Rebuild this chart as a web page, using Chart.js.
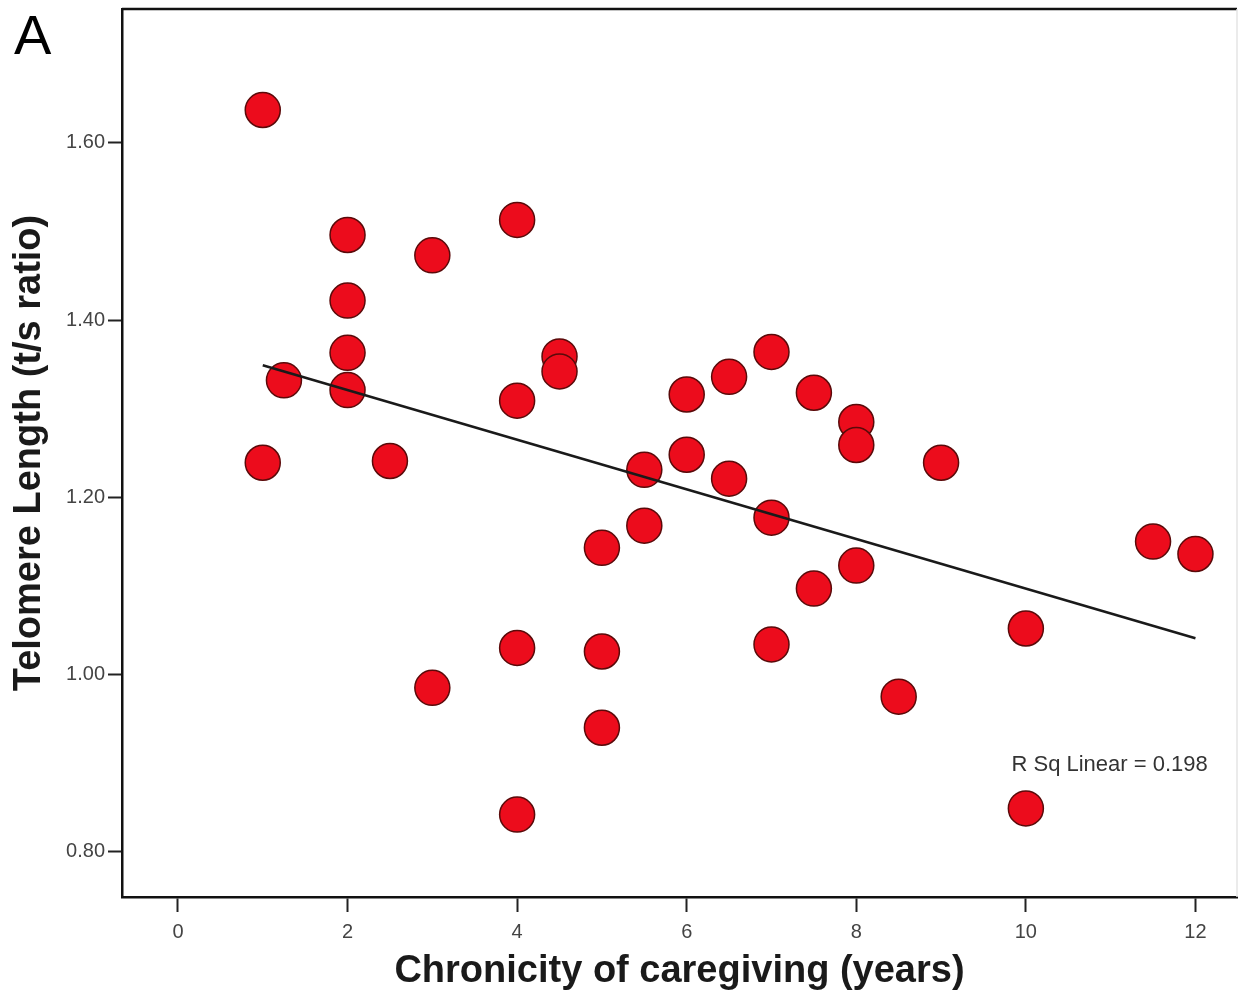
<!DOCTYPE html>
<html>
<head>
<meta charset="utf-8">
<script src="https://cdn.jsdelivr.net/npm/chart.js@4/dist/chart.umd.min.js"></script>
<style>
  html, body { margin: 0; padding: 0; background: #fff; overflow: hidden; }
  #wrap { width: 1240px; height: 996px; }
</style>
</head>
<body>
<div id="wrap"><canvas id="grafico"></canvas></div>
<script>
// dados
const caregivingYears = [1, 1, 1.25, 2, 2, 2, 2, 2.5, 3, 3, 4, 4, 4, 4, 4.5, 4.5, 5, 5, 5, 5.5, 5.5,
  6, 6, 6.5, 6.5, 7, 7, 7, 7.5, 7.5, 8, 8, 8, 8.5, 9, 10, 10, 11.5, 12]
const telomereLength = [1.637, 1.239, 1.332, 1.496, 1.422, 1.363, 1.321, 1.241, 1.473, 0.985,
  1.513, 1.309, 1.030, 0.842, 1.359, 1.342, 1.143, 1.026, 0.940, 1.231, 1.168,
  1.316, 1.248, 1.336, 1.221, 1.364, 1.177, 1.034, 1.318, 1.097, 1.285, 1.259, 1.123,
  0.975, 1.239, 1.052, 0.849, 1.150, 1.136]

// linha de regressão (extremos)
const fitX = [1, 12]
const fitY = [1.349, 1.041]

const xTicks = [0, 2, 4, 6, 8, 10, 12]
const yTicks = [0.80, 1.00, 1.20, 1.40, 1.60]
const rSqLabel = 'R Sq Linear = 0.198'

Chart.defaults.font.family = "'Liberation Sans', Arial, sans-serif"
Chart.defaults.color = '#444'

let ctx = document.getElementById('grafico')

// moldura + textos extras
const extras = {
  id: 'extras',
  afterDraw(chart) {
    const c = chart.ctx
    const a = chart.chartArea
    c.save()
    c.strokeStyle = '#111'
    c.lineWidth = 2.5
    c.beginPath()
    c.moveTo(a.left, a.top)
    c.lineTo(a.right, a.top)
    c.stroke()
    c.strokeStyle = '#e4e4e4'
    c.lineWidth = 1.5
    c.beginPath()
    c.moveTo(a.right, a.top)
    c.lineTo(a.right, a.bottom)
    c.stroke()

    c.fillStyle = '#000'
    c.font = "56px 'Liberation Sans', Arial, sans-serif"
    c.textBaseline = 'top'
    c.fillText('A', 14, 11)

    const sx = chart.scales.x, sy = chart.scales.y
    c.fillStyle = '#333'
    c.font = "22px 'Liberation Sans', Arial, sans-serif"
    c.textBaseline = 'middle'
    c.fillText(rSqLabel, sx.getPixelForValue(9.83), sy.getPixelForValue(0.898))
    c.restore()
  }
}

const data = {
  datasets: [
    {
      type: 'line',
      data: fitX.map((x, i) => ({ x, y: fitY[i] })),
      borderColor: '#1a1a1a',
      borderWidth: 2.5,
      pointRadius: 0,
      fill: false
    },
    {
      type: 'scatter',
      data: caregivingYears.map((x, i) => ({ x, y: telomereLength[i] })),
      backgroundColor: '#ec0c1c',
      borderColor: '#5a0a0a',
      borderWidth: 1.5,
      pointRadius: 17.5,
      pointHoverRadius: 17.5
    }
  ]
}

const config = {
  type: 'scatter',
  data,
  plugins: [extras],
  options: {
    responsive: true,
    maintainAspectRatio: false,
    animation: false,
    layout: { autoPadding: false, padding: { top: 9, right: 3, left: 0, bottom: 0 } },
    plugins: { legend: { display: false }, tooltip: { enabled: false } },
    scales: {
      x: {
        type: 'linear',
        min: -0.66,
        max: 12.49,
        afterBuildTicks: s => { s.ticks = xTicks.map(v => ({ value: v })) },
        afterFit: s => { s.height = 99; s.paddingLeft = 0; s.paddingRight = 0 },
        grid: { drawOnChartArea: false, drawTicks: true, tickLength: 15, tickWidth: 2, color: '#222' },
        border: { display: true, color: '#111', width: 2.5 },
        ticks: { font: { size: 20 }, color: '#444', padding: 8, maxRotation: 0 },
        title: {
          display: true,
          text: 'Chronicity of caregiving (years)',
          color: '#1a1a1a',
          font: { size: 38, weight: 'bold' },
          padding: { top: 0, bottom: 2 }
        }
      },
      y: {
        type: 'linear',
        min: 0.749,
        max: 1.751,
        afterBuildTicks: s => { s.ticks = yTicks.map(v => ({ value: v })) },
        afterFit: s => { s.width = 122; s.paddingTop = 0; s.paddingBottom = 0 },
        grid: { drawOnChartArea: false, drawTicks: true, tickLength: 14, tickWidth: 2, color: '#222' },
        border: { display: true, color: '#111', width: 2.5 },
        ticks: { font: { size: 20 }, color: '#444', padding: 3, callback: v => Number(v).toFixed(2) },
        title: {
          display: true,
          text: 'Telomere Length (t/s ratio)',
          color: '#1a1a1a',
          font: { size: 38, weight: 'bold' },
          padding: { top: 7, bottom: 0 }
        }
      }
    }
  }
}

const graph = new Chart(ctx, config)
</script>
</body>
</html>
